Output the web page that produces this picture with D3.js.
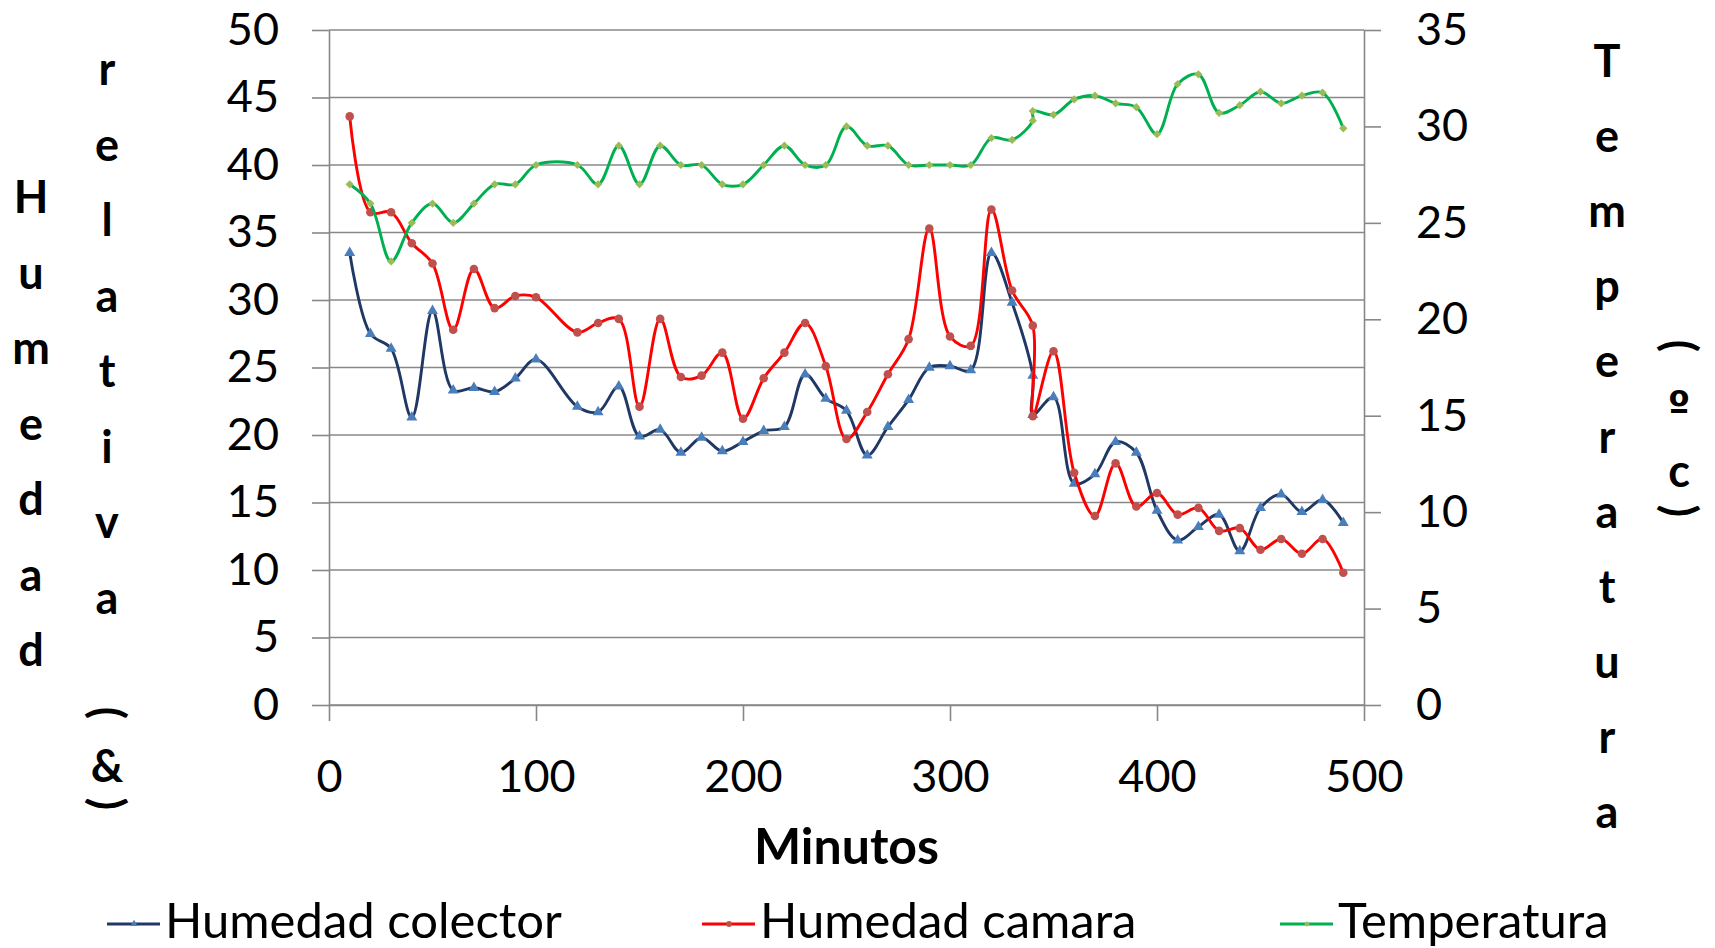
<!DOCTYPE html>
<html>
<head>
<meta charset="utf-8">
<script src="https://cdn.jsdelivr.net/npm/d3@7"></script>
<style>
  body { margin: 0; background: #fff; }
  text { font-family: Lato, "Open Sans", sans-serif; }
</style>
</head>
<body>
<div id="chart"></div>
<script>
var width = 1715; var height = 948;
var plot = { left: 329, right: 1364, top: 30, bottom: 705 };

// minutes (340 appears twice in the source sheet)
var minutos = [10,20,30,40,50,60,70,80,90,100,
  120,130,140,150,160,170,180,190,200,210,220,230,240,250,260,270,280,290,300,310,320,330,340,340,
  350,360,370,380,390,400,410,420,430,440,450,460,470,480,490];

var humedadColector = [33.5,27.5,26.4,21.3,29.2,23.3,23.5,23.2,24.2,25.6,
  22.1,21.7,23.6,19.9,20.4,18.7,19.8,18.8,19.5,20.3,20.6,24.5,22.7,21.8,18.5,20.6,22.6,25.0,25.1,24.8,33.5,29.8,24.4,21.5,
  22.8,16.4,17.1,19.5,18.7,14.4,12.2,13.2,14.1,11.4,14.6,15.6,14.3,15.2,13.5];

var humedadCamara = [43.6,36.5,36.5,34.2,32.7,27.8,32.3,29.4,30.3,30.2,
  27.6,28.3,28.6,22.1,28.6,24.3,24.4,26.1,21.2,24.2,26.1,28.3,25.1,19.7,21.7,24.5,27.1,35.3,27.3,26.6,36.7,30.7,28.1,21.4,
  26.2,17.2,14.0,17.9,14.7,15.7,14.1,14.6,12.9,13.1,11.5,12.3,11.2,12.3,9.8];

var temperatura = [27,26,23,25,26,25,26,27,27,28,
  28,27,29,27,29,28,28,27,27,28,29,28,28,30,29,29,28,28,28,28,29.4,29.3,30.3,30.8,
  30.6,31.4,31.6,31.2,31.0,29.6,32.2,32.7,30.7,31.1,31.8,31.2,31.6,31.75,29.9];

var xTicks = [0,100,200,300,400,500];
var yLeftTicks = [0,5,10,15,20,25,30,35,40,45,50];
var yRightTicks = [0,5,10,15,20,25,30,35];

var series = [
  { name: "Humedad colector", values: humedadColector, axis: "left", line: "#1f3864", marker: "#4a7ebb", symbol: d3.symbolTriangle, size: 52, rot: 0 },
  { name: "Humedad camara", values: humedadCamara, axis: "left", line: "#ff0000", marker: "#c0504d", symbol: d3.symbolCircle, size: 58, rot: 0 },
  { name: "Temperatura", values: temperatura, axis: "right", line: "#00b050", marker: "#9bbb59", symbol: d3.symbolSquare, size: 34, rot: 45 }
];

var svg = d3.select("#chart").append("svg")
    .attr("width", width)
    .attr("height", height);

svg.append("rect").attr("width", width).attr("height", height).attr("fill", "#fff");

var x = d3.scaleLinear().domain([0, 500]).range([plot.left, plot.right]);
var yL = d3.scaleLinear().domain([0, 50]).range([plot.bottom, plot.top]);
var yR = d3.scaleLinear().domain([0, 35]).range([plot.bottom, plot.top]);

var gridColor = "#888888";

// gridlines
svg.append("g")
    .selectAll("line")
    .data(yLeftTicks)
    .enter()
    .append("line")
    .attr("x1", plot.left)
    .attr("x2", plot.right)
    .attr("y1", function (d) { return yL(d); })
    .attr("y2", function (d) { return yL(d); })
    .attr("stroke", gridColor)
    .attr("stroke-width", 1.6);

function styleAxis(g) {
  g.selectAll("path").attr("stroke", gridColor).attr("stroke-width", 1.6);
  g.selectAll("line").attr("stroke", gridColor).attr("stroke-width", 1.6);
  g.selectAll("text").attr("fill", "#000").style("font-size", "45px").attr("font-family", null);
}

svg.append("g")
    .attr("transform", "translate(" + plot.left + ",0)")
    .call(d3.axisLeft(yL).tickValues(yLeftTicks).tickSize(17).tickSizeOuter(0).tickPadding(33))
    .call(styleAxis);

svg.append("g")
    .attr("transform", "translate(" + plot.right + ",0)")
    .call(d3.axisRight(yR).tickValues(yRightTicks).tickSize(17).tickSizeOuter(0).tickPadding(35))
    .call(styleAxis);

svg.append("g")
    .attr("transform", "translate(0," + plot.bottom + ")")
    .call(d3.axisBottom(x).tickValues(xTicks).tickSize(16).tickSizeOuter(0).tickPadding(39))
    .call(styleAxis);

// smoothed lines + markers
series.forEach(function (s) {
  var y = s.axis == "left" ? yL : yR;
  var pts = minutos.map(function (m, i) { return [x(m), y(s.values[i])]; });

  svg.append("path")
      .attr("d", d3.line().curve(d3.curveCatmullRom.alpha(0.5))(pts))
      .attr("fill", "none")
      .attr("stroke", s.line)
      .attr("stroke-width", 2.9);

  svg.append("g")
      .selectAll("path")
      .data(pts)
      .enter()
      .append("path")
      .attr("d", d3.symbol().type(s.symbol).size(s.size))
      .attr("transform", function (p) { return "translate(" + p[0] + "," + p[1] + ") rotate(" + s.rot + ")"; })
      .attr("fill", s.marker);
});

// x title
svg.append("text")
    .attr("x", (plot.left + plot.right) / 2)
    .attr("y", 864)
    .attr("text-anchor", "middle")
    .style("font-size", "50px")
    .style("font-weight", "bold")
    .text("Minutos");

// stacked (vertical) axis titles
function stacked(chars, cx, y0, step) {
  chars.forEach(function (c, i) {
    svg.append("text")
        .attr("x", cx)
        .attr("y", y0 + i * step)
        .attr("text-anchor", "middle")
        .style("font-size", "45px")
        .style("font-weight", "bold")
        .text(c);
  });
}
function paren(c, cx, cy) {
  svg.append("text")
      .attr("transform", "translate(" + cx + "," + cy + ") rotate(90)")
      .attr("text-anchor", "middle")
      .attr("dy", "0.33em")
      .style("font-size", "45px")
      .style("font-weight", "bold")
      .text(c);
}

stacked("Humedad".split(""), 31, 213, 75.5);
stacked("relativa".split(""), 107, 85, 75.5);
paren("(", 107, 713);
stacked(["&"], 107, 782, 0);
paren(")", 107, 804);

stacked("Temperatura".split(""), 1607, 77, 75.1);
paren("(", 1679, 346);
svg.append("text")
    .attr("x", 1679)
    .attr("y", 420)
    .attr("text-anchor", "middle")
    .style("font-family", "'DejaVu Sans', sans-serif")
    .style("font-size", "40px")
    .style("font-weight", "bold")
    .text("º");
stacked(["c"], 1679, 487, 0);
paren(")", 1679, 511);

// legend
var legendX = [107, 702, 1280];
var legendY = 924;
series.forEach(function (s, i) {
  var lg = svg.append("g").attr("transform", "translate(" + legendX[i] + "," + legendY + ")");
  lg.append("line")
      .attr("x1", 0).attr("x2", 53)
      .attr("stroke", s.line)
      .attr("stroke-width", 2.8);
  lg.append("path")
      .attr("d", d3.symbol().type(s.symbol).size(s.size * 0.45))
      .attr("transform", "translate(27,0) rotate(" + s.rot + ")")
      .attr("fill", s.marker);
  lg.append("text")
      .attr("x", 58)
      .attr("y", 14)
      .style("font-size", "49px")
      .text(s.name);
});
</script>
</body>
</html>
